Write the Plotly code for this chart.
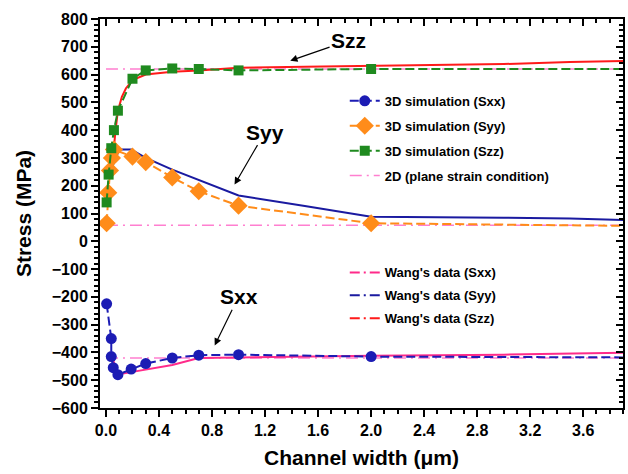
import plotly.graph_objects as go

# ---- data ----
sim_x_sxx = [0.005, 0.04, 0.04, 0.055, 0.09, 0.19, 0.3, 0.5, 0.7, 1.0, 2.0, 4.0]
sim_sxx = [-225, -350, -415, -455, -480, -460, -440, -420, -410, -408, -415, -418]

sim_x_syy = [0.005, 0.017, 0.03, 0.045, 0.06, 0.2, 0.3, 0.5, 0.7, 1.0, 2.0, 4.0]
sim_syy = [65, 175, 255, 300, 330, 305, 285, 230, 180, 128, 65, 55]

sim_x_szz = [0.005, 0.02, 0.04, 0.06, 0.09, 0.2, 0.3, 0.5, 0.7, 1.0, 2.0, 4.0]
sim_szz = [140, 240, 335, 400, 470, 585, 615, 622, 620, 615, 620, 620]

plane_x = [0.0, 4.0]
plane_sxx = [-420, -420]
plane_syy = [58, 58]
plane_szz = [620, 620]

wang_x_sxx = [0.04, 0.085, 0.2, 0.5, 0.7, 1.0, 2.0, 3.0, 4.0]
wang_sxx = [-400, -480, -470, -445, -420, -418, -412, -408, -400]

wang_x_syy = [0.04, 0.1, 0.19, 0.3, 0.5, 0.75, 1.0, 1.5, 2.0, 3.0, 3.5, 4.0]
wang_syy = [260, 330, 330, 300, 258, 212, 165, 127, 88, 85, 82, 75]

wang_x_szz = [0.05, 0.06, 0.07, 0.09, 0.12, 0.15, 0.2, 0.3, 0.5, 0.7, 1.0, 1.5, 2.0, 2.5, 3.0, 3.5, 4.0]
wang_szz = [280, 340, 390, 470, 520, 550, 580, 600, 610, 615, 625, 628, 632, 634, 638, 645, 650]

x_ticks = [0.0, 0.4, 0.8, 1.2, 1.6, 2.0, 2.4, 2.8, 3.2, 3.6]
y_ticks = list(range(-600, 801, 100))

BLUE = "#1c1cb4"
ORANGE = "#ff8c1a"
GREEN = "#1f8a1f"
RED = "#ff1a1a"
PINK = "#ff2a8a"
NAVY = "#1a1aa0"
PLANE = "#ff7fd0"
FONT = "Liberation Sans"

fig = go.Figure()

# 2D plane strain (dash-dot light pink)
px, py = [], []
for arr in (plane_szz, plane_syy, plane_sxx):
    px += plane_x + [None]
    py += arr + [None]
fig.add_trace(go.Scatter(x=px, y=py, mode="lines", line=dict(color=PLANE, width=1.5, dash="12px,5px,2px,5px"),
                         name="2D (plane strain condition)", legend="legend", legendgroup="p", legendrank=4))

# Wang's data (solid in plot)
fig.add_trace(go.Scatter(x=wang_x_szz, y=wang_szz, mode="lines", line=dict(color=RED, width=2), showlegend=False))
fig.add_trace(go.Scatter(x=wang_x_syy, y=wang_syy, mode="lines", line=dict(color=NAVY, width=2), showlegend=False))
fig.add_trace(go.Scatter(x=wang_x_sxx, y=wang_sxx, mode="lines", line=dict(color=PINK, width=2), showlegend=False))

# 3D simulation
dash3d = "9px,4px"
fig.add_trace(go.Scatter(x=sim_x_sxx, y=sim_sxx, mode="lines+markers", name="3D simulation (Sxx)",
                         line=dict(color=BLUE, width=2, dash=dash3d),
                         marker=dict(symbol="circle", size=11, color=BLUE),
                         legend="legend", legendgroup="a", legendrank=1))
fig.add_trace(go.Scatter(x=sim_x_syy, y=sim_syy, mode="lines+markers", name="3D simulation (Syy)",
                         line=dict(color=ORANGE, width=2, dash=dash3d),
                         marker=dict(symbol="diamond", size=14, color=ORANGE),
                         legend="legend", legendgroup="b", legendrank=2))
fig.add_trace(go.Scatter(x=sim_x_szz, y=sim_szz, mode="lines+markers", name="3D simulation (Szz)",
                         line=dict(color=GREEN, width=2, dash=dash3d),
                         marker=dict(symbol="square", size=10, color=GREEN),
                         legend="legend", legendgroup="c", legendrank=3))

# legend-only entries for Wang's data (dash-dot samples)
for nm, col, g in (("Wang's data (Sxx)", PINK, "w1"), ("Wang's data (Syy)", NAVY, "w2"), ("Wang's data (Szz)", RED, "w3")):
    fig.add_trace(go.Scatter(x=[None], y=[None], mode="lines", name=nm,
                             line=dict(color=col, width=2, dash="10px,4px,2px,4px"),
                             legend="legend2", legendgroup=g))

axis_common = dict(showline=True, linecolor="black", linewidth=2, showgrid=False, zeroline=False)

fig.update_layout(
    width=628, height=474,
    paper_bgcolor="white", plot_bgcolor="white",
    margin=dict(l=100, r=5, t=19, b=66),
    font=dict(family=FONT, color="black"),
    xaxis=dict(range=[-0.045, 3.9], tickvals=x_ticks, ticktext=[f"{v:.1f}" for v in x_ticks],
               ticks="outside", ticklen=7, tickwidth=1.5, tickcolor="black",
               minor=dict(dtick=0.1, tick0=0, ticks="outside", ticklen=4, tickwidth=1.5, tickcolor="black"),
               tickfont=dict(size=16, family=FONT, weight="bold"),
               title=dict(text="Channel width (μm)", font=dict(size=21, family=FONT, weight="bold"), standoff=12),
               **axis_common),
    yaxis=dict(range=[-600, 800], tickvals=y_ticks,
               ticks="outside", ticklen=7, tickwidth=1.5, tickcolor="black",
               minor=dict(dtick=20, tick0=0, ticks="outside", ticklen=4, tickwidth=1.5, tickcolor="black"),
               tickfont=dict(size=16, family=FONT, weight="bold"),
               title=dict(text="Stress (MPa)", font=dict(size=21, family=FONT, weight="bold"), standoff=14),
               **axis_common),
    xaxis2=dict(range=[-0.045, 3.9], overlaying="x", side="top", anchor="y", tickvals=x_ticks,
                showticklabels=False, ticks="inside", ticklen=7, tickwidth=1.5, tickcolor="black",
                minor=dict(dtick=0.1, tick0=0, ticks="inside", ticklen=4, tickwidth=1.5, tickcolor="black"),
                **axis_common),
    yaxis2=dict(range=[-600, 800], overlaying="y", side="right", anchor="x", tickvals=y_ticks,
                showticklabels=False, ticks="inside", ticklen=7, tickwidth=1.5, tickcolor="black",
                minor=dict(dtick=20, tick0=0, ticks="inside", ticklen=4, tickwidth=1.5, tickcolor="black"),
                **axis_common),
    legend=dict(x=0.468, y=0.828, xanchor="left", yanchor="top", bgcolor="rgba(0,0,0,0)",
                font=dict(size=13, family=FONT, weight="bold"), traceorder="grouped", tracegroupgap=5,
                itemwidth=30),
    legend2=dict(x=0.468, y=0.387, xanchor="left", yanchor="top", bgcolor="rgba(0,0,0,0)",
                 font=dict(size=13, family=FONT, weight="bold"), traceorder="grouped", tracegroupgap=3,
                 itemwidth=30),
    showlegend=True,
)

# dummy trace to activate the mirrored axes
fig.add_trace(go.Scatter(x=[None], y=[None], xaxis="x2", yaxis="y2", showlegend=False, hoverinfo="skip"))

ann_font = dict(size=21, family=FONT, weight="bold", color="black")
for txt, tx, ty, hx, hy in (("Szz", 1.83, 722, 1.39, 650), ("Syy", 1.2, 393, 0.97, 204), ("Sxx", 1.0, -200, 0.82, -375)):
    fig.add_annotation(x=hx, y=hy, ax=tx, ay=ty, xref="x", yref="y", axref="x", ayref="y",
                       text=txt, font=ann_font, showarrow=True, arrowhead=2, arrowsize=1.2,
                       arrowwidth=1.2, arrowcolor="black", standoff=0, startstandoff=0)

fig.write_html("out.html", config={"displayModeBar": False},
               post_script="document.body.style.margin='0';document.body.style.padding='0';")
